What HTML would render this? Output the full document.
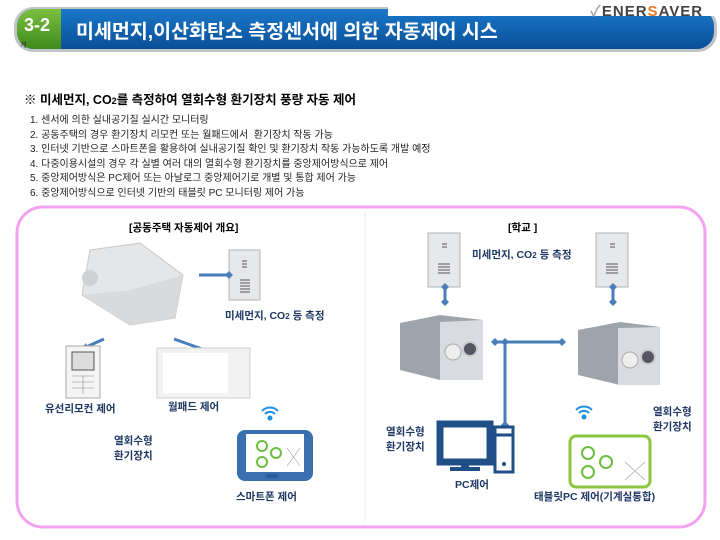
<!DOCTYPE html>
<html><head><meta charset="utf-8"><style>
body{margin:0;width:720px;height:540px;background:#fff;position:relative;overflow:hidden;font-family:"Liberation Sans","Noto Sans CJK KR",sans-serif}
.a{position:absolute;white-space:nowrap}
.lb{color:#1f3864;font-weight:bold;font-size:10.5px}
</style></head><body>
<svg class="a" style="left:0;top:0" width="720" height="540">
<defs>
<linearGradient id="bl" x1="0" y1="0" x2="0" y2="1"><stop offset="0" stop-color="#1a78c8"/><stop offset="1" stop-color="#0a4f98"/></linearGradient>
<linearGradient id="gr" x1="0" y1="0" x2="0" y2="1"><stop offset="0" stop-color="#7cc040"/><stop offset="1" stop-color="#3e8a1c"/></linearGradient>
</defs>
<rect x="14" y="7" width="703" height="45" rx="19" fill="#bfc4c9"/>
<rect x="17" y="9" width="697" height="40" rx="17" fill="url(#bl)"/>
<path d="M34 9 H61 V49 H34 A17 17 0 0 1 17 32 V26 A17 17 0 0 1 34 9Z" fill="url(#gr)"/>
<rect x="388" y="0" width="332" height="16" fill="#fff"/>
<rect x="17" y="207" width="688" height="320" rx="26" fill="none" stroke="#f2a2ef" stroke-width="3"/>
<line x1="365" y1="212" x2="365" y2="522" stroke="#eee" stroke-width="1"/>
<path d="M90 250 L140 243 L183 275 L175 318 L130 325 L82 295 Z" fill="#e4e6e8" stroke="#c8c8c8"/>
<path d="M82 295 L130 325 L175 318 L183 275 L130 290 Z" fill="#d8dadc"/>
<circle cx="90" cy="278" r="8" fill="#cfd2d4"/>
<rect x="229" y="250" width="31" height="50" fill="#e6e8ea" stroke="#b0b4b8"/>
<g stroke="#555" stroke-width="1"><line x1="242" y1="261" x2="247" y2="261"/><line x1="242" y1="264" x2="247" y2="264"/><line x1="242" y1="267" x2="247" y2="267"/><line x1="240" y1="280" x2="250" y2="280"/><line x1="240" y1="283" x2="250" y2="283"/><line x1="240" y1="286" x2="250" y2="286"/><line x1="240" y1="289" x2="250" y2="289"/><line x1="240" y1="292" x2="250" y2="292"/></g>
<g stroke="#4a7ebb" stroke-width="3" fill="#4a7ebb">
<line x1="199" y1="275" x2="228" y2="275"/>
<line x1="104" y1="339" x2="84" y2="348"/>
<line x1="174" y1="339" x2="202" y2="349"/>
</g>
<path d="M229 271 L233 275 L229 279 L225 275Z" fill="#4a7ebb"/>
<path d="M80 350 L86 343 L88 350Z" fill="#4a7ebb"/>
<path d="M206 350 L198 346 L201 354Z" fill="#4a7ebb"/>
<rect x="66" y="346" width="34" height="52" fill="#f4f4f4" stroke="#aaa"/>
<rect x="72" y="352" width="22" height="18" fill="#ddd" stroke="#555"/>
<g stroke="#888" stroke-width=".6"><line x1="72" y1="376" x2="94" y2="376"/><line x1="72" y1="382" x2="94" y2="382"/><line x1="72" y1="388" x2="94" y2="388"/><line x1="83" y1="376" x2="83" y2="394"/></g>
<rect x="157" y="348" width="93" height="50" fill="#f2f2f2" stroke="#d0d0d0"/>
<rect x="163" y="353" width="65" height="40" fill="#fff"/>
<rect x="237" y="430" width="76" height="51" rx="8" fill="#3a6fb0"/>
<rect x="246" y="434" width="58" height="38" fill="#fff"/>
<rect x="266" y="474" width="12" height="4" rx="2" fill="#2a5a98"/>
<g fill="none" stroke="#6cbf40" stroke-width="2"><circle cx="262" cy="446" r="5"/><circle cx="276" cy="453" r="5"/><circle cx="262" cy="462" r="5"/></g>
<path d="M287 448 L300 466 M287 466 L300 448" stroke="#999" stroke-width=".6"/>
<g fill="none" stroke="#1e8ee0" stroke-width="2"><path d="M262 411 A11 11 0 0 1 278 411"/><path d="M265 414 A7 7 0 0 1 275 414"/></g><circle cx="270" cy="418" r="2.5" fill="#1e8ee0"/>
<g><rect x="428" y="233" width="32" height="54" fill="#e6e8ea" stroke="#b0b4b8"/><rect x="596" y="233" width="32" height="54" fill="#e6e8ea" stroke="#b0b4b8"/></g>
<g stroke="#555"><line x1="442" y1="244" x2="447" y2="244"/><line x1="442" y1="247" x2="447" y2="247"/><line x1="438" y1="264" x2="450" y2="264"/><line x1="438" y1="267" x2="450" y2="267"/><line x1="438" y1="270" x2="450" y2="270"/><line x1="438" y1="273" x2="450" y2="273"/>
<line x1="610" y1="244" x2="615" y2="244"/><line x1="610" y1="247" x2="615" y2="247"/><line x1="606" y1="264" x2="618" y2="264"/><line x1="606" y1="267" x2="618" y2="267"/><line x1="606" y1="270" x2="618" y2="270"/><line x1="606" y1="273" x2="618" y2="273"/></g>
<path d="M400 323 L440 315 L483 320 L483 380 L440 380 L400 370Z" fill="#9ea4ac"/>
<path d="M440 322 L483 320 L483 380 L440 380Z" fill="#d8dbe0"/>
<circle cx="453" cy="352" r="8" fill="#eee" stroke="#aaa"/><circle cx="470" cy="349" r="7" fill="#556" stroke="#ccc" stroke-width="2"/>
<path d="M578 330 L620 322 L660 327 L660 385 L620 385 L578 375Z" fill="#9ea4ac"/>
<path d="M618 328 L660 327 L660 385 L618 385Z" fill="#d8dbe0"/>
<circle cx="630" cy="360" r="8" fill="#eee" stroke="#aaa"/><circle cx="648" cy="357" r="7" fill="#556" stroke="#ccc" stroke-width="2"/>
<g stroke="#4a7ebb" stroke-width="3"><line x1="445" y1="287" x2="445" y2="302"/><line x1="613" y1="287" x2="613" y2="302"/><line x1="495" y1="342" x2="562" y2="342"/><line x1="505" y1="342" x2="505" y2="425"/></g>
<g fill="#4a7ebb"><path d="M445 283 l4 4 -4 4 -4 -4z"/><path d="M445 298 l4 4 -4 4 -4 -4z"/><path d="M613 283 l4 4 -4 4 -4 -4z"/><path d="M613 298 l4 4 -4 4 -4 -4z"/><path d="M495 338 l4 4 -4 4 -4 -4z"/><path d="M505 338 l4 4 -4 4 -4 -4z"/><path d="M562 338 l4 4 -4 4 -4 -4z"/><path d="M505 421 l4 4 -4 4 -4 -4z"/></g>
<rect x="440" y="424" width="50" height="38" fill="none" stroke="#1f4f86" stroke-width="7"/>
<rect x="461" y="462" width="8" height="6" fill="#1f4f86"/><rect x="450" y="467" width="30" height="4" fill="#1f4f86"/>
<rect x="495" y="427" width="18" height="45" fill="none" stroke="#1f4f86" stroke-width="3"/>
<line x1="495" y1="435" x2="513" y2="435" stroke="#1f4f86" stroke-width="3"/><circle cx="504" cy="464" r="2" fill="#1f4f86"/>
<g fill="none" stroke="#1e8ee0" stroke-width="2"><path d="M576 410 A11 11 0 0 1 592 410"/><path d="M579 413 A7 7 0 0 1 589 413"/></g><circle cx="584" cy="417" r="2.5" fill="#1e8ee0"/>
<rect x="570" y="436" width="80" height="51" rx="6" fill="#fff" stroke="#8cc63f" stroke-width="3"/>
<g fill="none" stroke="#6cbf40" stroke-width="2"><circle cx="588" cy="453" r="6"/><circle cx="606" cy="462" r="6"/><circle cx="588" cy="472" r="6"/></g>
<path d="M625 462 L645 480 M625 480 L645 462" stroke="#999" stroke-width=".6"/>
</svg>
<div class="a" style="left:24px;top:15px;color:#fff;font-weight:bold;font-size:18px">3-2</div>
<div class="a" style="left:20px;top:40px;color:#333;font-size:7px">게</div>
<div class="a" style="left:76px;top:15px;color:#fff;font-weight:bold;font-size:19.5px">미세먼지,이산화탄소 측정센서에 의한 자동제어 시스</div>
<div class="a" style="left:590px;top:0px;color:#444;font-weight:bold;font-size:15px;letter-spacing:1px"><span style="color:#aaa">&#10003;</span>ENER<span style="color:#e87722">S</span>AVER</div>
<div class="a" style="left:24px;top:89px;font-weight:bold;font-size:12.5px;color:#000">※ 미세먼지, CO<span style="font-size:9px">2</span>를 측정하여 열회수형 환기장치 풍량 자동 제어</div>
<div class="a" style="left:30px;top:114px;font-size:10px;line-height:14.6px;color:#222">1. 센서에 의한 실내공기질 실시간 모니터링<br>2. 공동주택의 경우 환기장치 리모컨 또는 월패드에서 &nbsp;환기장치 작동 가능<br>3. 인터넷 기반으로 스마트폰을 활용하여 실내공기질 확인 및 환기장치 작동 가능하도록 개발 예정<br>4. 다중이용시설의 경우 각 실별 여러 대의 열회수형 환기장치를 중앙제어방식으로 제어<br>5. 중앙제어방식은 PC제어 또는 아날로그 중앙제어기로 개별 및 통합 제어 가능<br>6. 중앙제어방식으로 인터넷 기반의 태블릿 PC 모니터링 제어 가능</div>
<div class="a" style="left:129px;top:220px;font-weight:bold;font-size:10.5px;color:#000">[공동주택 자동제어 개요]</div>
<div class="a lb" style="left:225px;top:308px">미세먼지, CO<span style="font-size:8px">2</span> 등 측정</div>
<div class="a lb" style="left:45px;top:401px">유선리모컨 제어</div>
<div class="a lb" style="left:168px;top:399px">월패드 제어</div>
<div class="a lb" style="left:114px;top:434px;text-align:center;line-height:15px">열회수형<br>환기장치</div>
<div class="a lb" style="left:236px;top:489px">스마트폰 제어</div>
<div class="a" style="left:508px;top:220px;font-weight:bold;font-size:10.5px;color:#000">[학교 ]</div>
<div class="a lb" style="left:472px;top:247px">미세먼지, CO<span style="font-size:8px">2</span> 등 측정</div>
<div class="a lb" style="left:386px;top:425px;text-align:center;line-height:15px">열회수형<br>환기장치</div>
<div class="a lb" style="left:653px;top:405px;text-align:center;line-height:15px">열회수형<br>환기장치</div>
<div class="a lb" style="left:455px;top:477px">PC제어</div>
<div class="a lb" style="left:534px;top:489px">태블릿PC 제어(기계실통합)</div>
</body></html>
